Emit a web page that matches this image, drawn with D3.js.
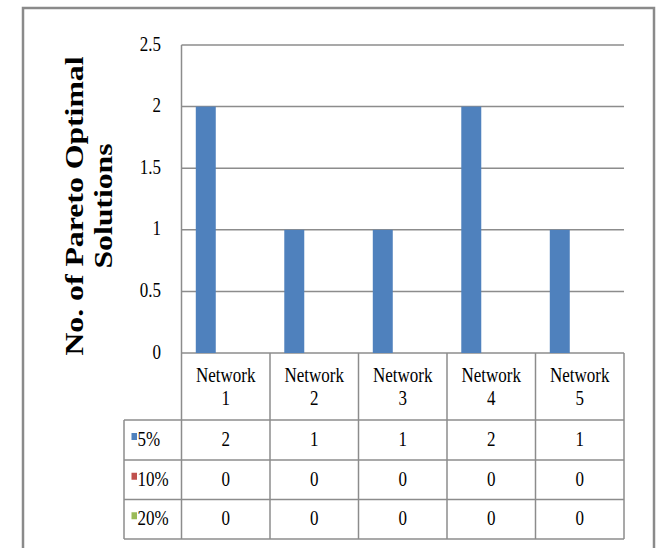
<!DOCTYPE html>
<html>
<head>
<meta charset="utf-8">
<script src="https://cdn.jsdelivr.net/npm/d3@7"></script>
<style>
  body { margin: 0; background: #fff; }
  text { font-family: "Liberation Serif", "Times New Roman", serif; fill: #000; }
</style>
</head>
<body>
<div id="chart"></div>
<script>
// Chart data
var networks = ["Network 1", "Network 2", "Network 3", "Network 4", "Network 5"];
var seriesNames = ["5%", "10%", "20%"];
var values5 = [2, 1, 1, 2, 1];
var values10 = [0, 0, 0, 0, 0];
var values20 = [0, 0, 0, 0, 0];
var seriesColors = ["#4F81BD", "#C0504D", "#9BBB59"];
var yTicks = [0, 0.5, 1, 1.5, 2, 2.5];

var allValues = [values5, values10, values20];

var svgWidth = 658;
var svgHeight = 548;

// plot area
var plot = { left: 181.5, right: 624, top: 45, bottom: 353 };
// table rows (header + one per series)
var rowLines = [353, 420, 460, 499.5, 539];
var legendLeft = 124;

var svg = d3.select("#chart")
  .append("svg")
  .attr("width", svgWidth)
  .attr("height", svgHeight);

// outer frame
svg.append("rect")
  .attr("x", 23)
  .attr("y", 8)
  .attr("width", 631)
  .attr("height", 560)
  .attr("fill", "none")
  .attr("stroke", "#8a8a8a")
  .attr("stroke-width", 2.5);

// Scales
var x0 = d3.scaleBand()
  .domain(networks)
  .range([plot.left, plot.right])
  .paddingInner(0)
  .paddingOuter(0);

var x1 = d3.scaleBand()
  .domain(seriesNames)
  .range([0, x0.bandwidth()])
  .paddingInner(0)
  .paddingOuter(0.715);

var y = d3.scaleLinear()
  .domain([0, 2.5])
  .range([plot.bottom, plot.top]);

var gridColor = "#8c8c8c";

// gridlines
svg.append("g")
  .selectAll("line")
  .data(yTicks)
  .enter()
  .append("line")
  .attr("x1", plot.left)
  .attr("x2", plot.right)
  .attr("y1", d => y(d))
  .attr("y2", d => y(d))
  .attr("stroke", gridColor)
  .attr("stroke-width", 1.5);

// tick labels
svg.append("g")
  .selectAll("text")
  .data(yTicks)
  .enter()
  .append("text")
  .attr("text-anchor", "end")
  .attr("transform", d => `translate(161, ${y(d) + 5.5}) scale(1, 1.2)`)
  .style("font-size", "17px")
  .text(d => d3.format("")(d));

// bars
var barData = [];
seriesNames.forEach(function(s, i) {
  networks.forEach(function(n, j) {
    barData.push({ series: s, network: n, value: allValues[i][j], color: seriesColors[i] });
  });
});

svg.append("g")
  .selectAll("rect")
  .data(barData)
  .enter()
  .append("rect")
  .attr("x", d => x0(d.network) + x1(d.series))
  .attr("y", d => y(d.value))
  .attr("width", x1.bandwidth())
  .attr("height", d => y(0) - y(d.value))
  .attr("fill", d => d.color);

// left axis line
svg.append("line")
  .attr("x1", plot.left).attr("x2", plot.left)
  .attr("y1", plot.top).attr("y2", rowLines[rowLines.length - 1])
  .attr("stroke", gridColor)
  .attr("stroke-width", 1.5);

// data table
var table = svg.append("g");
var bottom = rowLines[rowLines.length - 1];

// category column separators
var colEdges = networks.map(n => x0(n) + x0.bandwidth());
table.selectAll("line.col")
  .data(colEdges)
  .enter()
  .append("line")
  .attr("class", "col")
  .attr("x1", d => d).attr("x2", d => d)
  .attr("y1", rowLines[0]).attr("y2", bottom)
  .attr("stroke", gridColor)
  .attr("stroke-width", 1.5);

// horizontal row lines
table.selectAll("line.row")
  .data(rowLines.slice(1))
  .enter()
  .append("line")
  .attr("class", "row")
  .attr("x1", legendLeft).attr("x2", plot.right)
  .attr("y1", d => d).attr("y2", d => d)
  .attr("stroke", gridColor)
  .attr("stroke-width", 1.5);

// legend column left edge
table.append("line")
  .attr("x1", legendLeft).attr("x2", legendLeft)
  .attr("y1", rowLines[1]).attr("y2", bottom)
  .attr("stroke", gridColor)
  .attr("stroke-width", 1.5);

// header labels (two lines)
networks.forEach(function(n) {
  var cx = x0(n) + x0.bandwidth() / 2;
  var parts = n.split(" ");
  table.append("text")
    .attr("text-anchor", "middle")
    .attr("transform", `translate(${cx}, 382) scale(1, 1.2)`)
    .style("font-size", "17px")
    .text(parts[0]);
  table.append("text")
    .attr("text-anchor", "middle")
    .attr("transform", `translate(${cx}, 405) scale(1, 1.2)`)
    .style("font-size", "17px")
    .text(parts[1]);
});

// series rows
seriesNames.forEach(function(s, i) {
  var top = rowLines[i + 1];
  var base = (top + rowLines[i + 2]) / 2 + 6;

  table.append("rect")
    .attr("x", 131.5)
    .attr("y", base - 13)
    .attr("width", 5.5)
    .attr("height", 7)
    .attr("fill", seriesColors[i]);

  table.append("text")
    .attr("transform", `translate(137.5, ${base}) scale(1, 1.2)`)
    .style("font-size", "17px")
    .text(s);

  networks.forEach(function(n, j) {
    table.append("text")
      .attr("text-anchor", "middle")
      .attr("transform", `translate(${x0(n) + x0.bandwidth() / 2}, ${base}) scale(1, 1.2)`)
      .style("font-size", "17px")
      .text(allValues[i][j]);
  });
});

// y axis title
var title = svg.append("g")
  .attr("transform", "translate(0, 206)");
title.append("text")
  .attr("text-anchor", "middle")
  .attr("transform", "translate(83, 0) rotate(-90) scale(1.27, 1)")
  .style("font-size", "25px")
  .style("font-weight", "bold")
  .text("No. of Pareto Optimal");
title.append("text")
  .attr("text-anchor", "middle")
  .attr("transform", "translate(112, 0) rotate(-90) scale(1.27, 1)")
  .style("font-size", "25px")
  .style("font-weight", "bold")
  .text("Solutions");
</script>
</body>
</html>
